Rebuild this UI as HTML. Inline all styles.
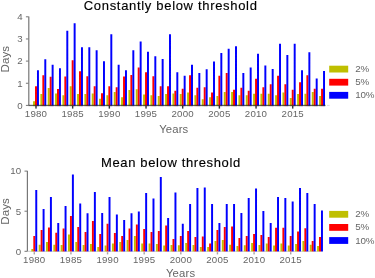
<!DOCTYPE html>
<html><head><meta charset="utf-8"><style>
html,body{margin:0;padding:0;background:#fff;width:375px;height:278px;overflow:hidden}
svg{display:block;will-change:transform}
text{font-family:"Liberation Sans",sans-serif}
.tl{font-size:9.7px;fill:#666666;letter-spacing:0.2px}
.lg{font-size:9.8px;fill:#666666;letter-spacing:-0.2px}
.ti{font-size:13px;fill:#000;stroke:#000;stroke-width:0.15px;letter-spacing:0.6px}
.xl{font-size:11.3px;fill:#666666;letter-spacing:0.15px}
.yl{font-size:11.5px;fill:#666666;letter-spacing:0.1px}
</style></head><body>
<svg width="375" height="278" viewBox="0 0 375 278">
<path d="M33.06 101.19h1.96V105.40h-1.96zM40.40 94.10h1.96V105.40h-1.96zM47.73 88.12h1.96V105.40h-1.96zM55.06 93.44h1.96V105.40h-1.96zM62.40 95.21h1.96V105.40h-1.96zM69.73 86.13h1.96V105.40h-1.96zM77.07 94.10h1.96V105.40h-1.96zM84.41 94.10h1.96V105.40h-1.96zM91.74 93.44h1.96V105.40h-1.96zM99.08 98.76h1.96V105.40h-1.96zM106.41 95.21h1.96V105.40h-1.96zM113.75 92.11h1.96V105.40h-1.96zM121.08 97.20h1.96V105.40h-1.96zM128.42 90.12h1.96V105.40h-1.96zM135.75 89.23h1.96V105.40h-1.96zM143.09 94.55h1.96V105.40h-1.96zM150.42 95.21h1.96V105.40h-1.96zM157.75 96.10h1.96V105.40h-1.96zM165.09 94.10h1.96V105.40h-1.96zM172.43 93.44h1.96V105.40h-1.96zM179.76 94.10h1.96V105.40h-1.96zM187.09 92.55h1.96V105.40h-1.96zM194.43 95.21h1.96V105.40h-1.96zM201.77 99.20h1.96V105.40h-1.96zM209.10 97.20h1.96V105.40h-1.96zM216.44 96.10h1.96V105.40h-1.96zM223.77 92.11h1.96V105.40h-1.96zM231.10 92.11h1.96V105.40h-1.96zM238.44 95.21h1.96V105.40h-1.96zM245.78 95.21h1.96V105.40h-1.96zM253.11 93.66h1.96V105.40h-1.96zM260.44 93.66h1.96V105.40h-1.96zM267.78 93.66h1.96V105.40h-1.96zM275.12 95.21h1.96V105.40h-1.96zM282.45 92.55h1.96V105.40h-1.96zM289.79 98.09h1.96V105.40h-1.96zM297.12 94.10h1.96V105.40h-1.96zM304.45 93.66h1.96V105.40h-1.96zM311.79 92.11h1.96V105.40h-1.96zM319.12 96.10h1.96V105.40h-1.96z" fill="#bfbf00"/>
<path d="M33.06 105.40h1.96v1.2h-1.96zM40.40 105.40h1.96v1.2h-1.96zM47.73 105.40h1.96v1.2h-1.96zM55.06 105.40h1.96v1.2h-1.96zM62.40 105.40h1.96v1.2h-1.96zM69.73 105.40h1.96v1.2h-1.96zM77.07 105.40h1.96v1.2h-1.96zM84.41 105.40h1.96v1.2h-1.96zM91.74 105.40h1.96v1.2h-1.96zM99.08 105.40h1.96v1.2h-1.96zM106.41 105.40h1.96v1.2h-1.96zM113.75 105.40h1.96v1.2h-1.96zM121.08 105.40h1.96v1.2h-1.96zM128.42 105.40h1.96v1.2h-1.96zM135.75 105.40h1.96v1.2h-1.96zM143.09 105.40h1.96v1.2h-1.96zM150.42 105.40h1.96v1.2h-1.96zM157.75 105.40h1.96v1.2h-1.96zM165.09 105.40h1.96v1.2h-1.96zM172.43 105.40h1.96v1.2h-1.96zM179.76 105.40h1.96v1.2h-1.96zM187.09 105.40h1.96v1.2h-1.96zM194.43 105.40h1.96v1.2h-1.96zM201.77 105.40h1.96v1.2h-1.96zM209.10 105.40h1.96v1.2h-1.96zM216.44 105.40h1.96v1.2h-1.96zM223.77 105.40h1.96v1.2h-1.96zM231.10 105.40h1.96v1.2h-1.96zM238.44 105.40h1.96v1.2h-1.96zM245.78 105.40h1.96v1.2h-1.96zM253.11 105.40h1.96v1.2h-1.96zM260.44 105.40h1.96v1.2h-1.96zM267.78 105.40h1.96v1.2h-1.96zM275.12 105.40h1.96v1.2h-1.96zM282.45 105.40h1.96v1.2h-1.96zM289.79 105.40h1.96v1.2h-1.96zM297.12 105.40h1.96v1.2h-1.96zM304.45 105.40h1.96v1.2h-1.96zM311.79 105.40h1.96v1.2h-1.96zM319.12 105.40h1.96v1.2h-1.96z" fill="#bfbf00" opacity="0.3"/>
<path d="M35.02 86.13h1.96V105.40h-1.96zM42.36 75.28h1.96V105.40h-1.96zM49.69 76.83h1.96V105.40h-1.96zM57.02 89.01h1.96V105.40h-1.96zM64.36 76.61h1.96V105.40h-1.96zM71.69 60.21h1.96V105.40h-1.96zM79.03 71.29h1.96V105.40h-1.96zM86.36 76.16h1.96V105.40h-1.96zM93.70 86.13h1.96V105.40h-1.96zM101.03 93.22h1.96V105.40h-1.96zM108.37 86.13h1.96V105.40h-1.96zM115.70 87.24h1.96V105.40h-1.96zM123.04 76.61h1.96V105.40h-1.96zM130.38 75.05h1.96V105.40h-1.96zM137.71 67.52h1.96V105.40h-1.96zM145.05 72.18h1.96V105.40h-1.96zM152.38 76.16h1.96V105.40h-1.96zM159.72 86.13h1.96V105.40h-1.96zM167.05 86.13h1.96V105.40h-1.96zM174.39 90.78h1.96V105.40h-1.96zM181.72 88.79h1.96V105.40h-1.96zM189.06 75.28h1.96V105.40h-1.96zM196.39 87.68h1.96V105.40h-1.96zM203.73 87.24h1.96V105.40h-1.96zM211.06 92.55h1.96V105.40h-1.96zM218.40 75.72h1.96V105.40h-1.96zM225.73 73.06h1.96V105.40h-1.96zM233.06 89.67h1.96V105.40h-1.96zM240.40 87.68h1.96V105.40h-1.96zM247.74 90.78h1.96V105.40h-1.96zM255.07 78.82h1.96V105.40h-1.96zM262.40 87.24h1.96V105.40h-1.96zM269.74 84.14h1.96V105.40h-1.96zM277.07 75.72h1.96V105.40h-1.96zM284.41 84.14h1.96V105.40h-1.96zM291.75 89.67h1.96V105.40h-1.96zM299.08 82.14h1.96V105.40h-1.96zM306.41 75.28h1.96V105.40h-1.96zM313.75 88.79h1.96V105.40h-1.96zM321.08 88.79h1.96V105.40h-1.96z" fill="#ff0000"/>
<path d="M35.02 105.40h1.96v1.2h-1.96zM42.36 105.40h1.96v1.2h-1.96zM49.69 105.40h1.96v1.2h-1.96zM57.02 105.40h1.96v1.2h-1.96zM64.36 105.40h1.96v1.2h-1.96zM71.69 105.40h1.96v1.2h-1.96zM79.03 105.40h1.96v1.2h-1.96zM86.36 105.40h1.96v1.2h-1.96zM93.70 105.40h1.96v1.2h-1.96zM101.03 105.40h1.96v1.2h-1.96zM108.37 105.40h1.96v1.2h-1.96zM115.70 105.40h1.96v1.2h-1.96zM123.04 105.40h1.96v1.2h-1.96zM130.38 105.40h1.96v1.2h-1.96zM137.71 105.40h1.96v1.2h-1.96zM145.05 105.40h1.96v1.2h-1.96zM152.38 105.40h1.96v1.2h-1.96zM159.72 105.40h1.96v1.2h-1.96zM167.05 105.40h1.96v1.2h-1.96zM174.39 105.40h1.96v1.2h-1.96zM181.72 105.40h1.96v1.2h-1.96zM189.06 105.40h1.96v1.2h-1.96zM196.39 105.40h1.96v1.2h-1.96zM203.73 105.40h1.96v1.2h-1.96zM211.06 105.40h1.96v1.2h-1.96zM218.40 105.40h1.96v1.2h-1.96zM225.73 105.40h1.96v1.2h-1.96zM233.06 105.40h1.96v1.2h-1.96zM240.40 105.40h1.96v1.2h-1.96zM247.74 105.40h1.96v1.2h-1.96zM255.07 105.40h1.96v1.2h-1.96zM262.40 105.40h1.96v1.2h-1.96zM269.74 105.40h1.96v1.2h-1.96zM277.07 105.40h1.96v1.2h-1.96zM284.41 105.40h1.96v1.2h-1.96zM291.75 105.40h1.96v1.2h-1.96zM299.08 105.40h1.96v1.2h-1.96zM306.41 105.40h1.96v1.2h-1.96zM313.75 105.40h1.96v1.2h-1.96zM321.08 105.40h1.96v1.2h-1.96z" fill="#ff0000" opacity="0.3"/>
<path d="M36.98 70.18h1.96V105.40h-1.96zM44.31 59.33h1.96V105.40h-1.96zM51.65 64.64h1.96V105.40h-1.96zM58.98 68.19h1.96V105.40h-1.96zM66.32 30.75h1.96V105.40h-1.96zM73.66 23.22h1.96V105.40h-1.96zM80.99 47.15h1.96V105.40h-1.96zM88.33 47.15h1.96V105.40h-1.96zM95.66 50.25h1.96V105.40h-1.96zM103.00 61.32h1.96V105.40h-1.96zM110.33 34.30h1.96V105.40h-1.96zM117.67 64.87h1.96V105.40h-1.96zM125.00 70.18h1.96V105.40h-1.96zM132.34 50.25h1.96V105.40h-1.96zM139.67 41.61h1.96V105.40h-1.96zM147.00 51.80h1.96V105.40h-1.96zM154.34 56.23h1.96V105.40h-1.96zM161.67 59.11h1.96V105.40h-1.96zM169.01 34.30h1.96V105.40h-1.96zM176.34 72.18h1.96V105.40h-1.96zM183.68 75.72h1.96V105.40h-1.96zM191.01 64.87h1.96V105.40h-1.96zM198.35 73.06h1.96V105.40h-1.96zM205.69 69.30h1.96V105.40h-1.96zM213.02 61.54h1.96V105.40h-1.96zM220.35 52.90h1.96V105.40h-1.96zM227.69 48.70h1.96V105.40h-1.96zM235.02 46.26h1.96V105.40h-1.96zM242.36 73.06h1.96V105.40h-1.96zM249.69 67.52h1.96V105.40h-1.96zM257.03 53.79h1.96V105.40h-1.96zM264.37 65.53h1.96V105.40h-1.96zM271.70 69.07h1.96V105.40h-1.96zM279.04 43.82h1.96V105.40h-1.96zM286.37 54.90h1.96V105.40h-1.96zM293.71 43.82h1.96V105.40h-1.96zM301.04 70.18h1.96V105.40h-1.96zM308.38 52.24h1.96V105.40h-1.96zM315.71 78.60h1.96V105.40h-1.96zM323.05 71.07h1.96V105.40h-1.96z" fill="#0000ff"/>
<path d="M36.98 105.40h1.96v1.2h-1.96zM44.31 105.40h1.96v1.2h-1.96zM51.65 105.40h1.96v1.2h-1.96zM58.98 105.40h1.96v1.2h-1.96zM66.32 105.40h1.96v1.2h-1.96zM73.66 105.40h1.96v1.2h-1.96zM80.99 105.40h1.96v1.2h-1.96zM88.33 105.40h1.96v1.2h-1.96zM95.66 105.40h1.96v1.2h-1.96zM103.00 105.40h1.96v1.2h-1.96zM110.33 105.40h1.96v1.2h-1.96zM117.67 105.40h1.96v1.2h-1.96zM125.00 105.40h1.96v1.2h-1.96zM132.34 105.40h1.96v1.2h-1.96zM139.67 105.40h1.96v1.2h-1.96zM147.00 105.40h1.96v1.2h-1.96zM154.34 105.40h1.96v1.2h-1.96zM161.67 105.40h1.96v1.2h-1.96zM169.01 105.40h1.96v1.2h-1.96zM176.34 105.40h1.96v1.2h-1.96zM183.68 105.40h1.96v1.2h-1.96zM191.01 105.40h1.96v1.2h-1.96zM198.35 105.40h1.96v1.2h-1.96zM205.69 105.40h1.96v1.2h-1.96zM213.02 105.40h1.96v1.2h-1.96zM220.35 105.40h1.96v1.2h-1.96zM227.69 105.40h1.96v1.2h-1.96zM235.02 105.40h1.96v1.2h-1.96zM242.36 105.40h1.96v1.2h-1.96zM249.69 105.40h1.96v1.2h-1.96zM257.03 105.40h1.96v1.2h-1.96zM264.37 105.40h1.96v1.2h-1.96zM271.70 105.40h1.96v1.2h-1.96zM279.04 105.40h1.96v1.2h-1.96zM286.37 105.40h1.96v1.2h-1.96zM293.71 105.40h1.96v1.2h-1.96zM301.04 105.40h1.96v1.2h-1.96zM308.38 105.40h1.96v1.2h-1.96zM315.71 105.40h1.96v1.2h-1.96zM323.05 105.40h1.96v1.2h-1.96z" fill="#0000ff" opacity="0.3"/>
<rect x="28.20" y="16.50" width="1.2" height="88.90" fill="#777777"/>
<rect x="28.30" y="104.80" width="297.20" height="1.3" fill="#000" fill-opacity="0.62"/>
<rect x="327.00" y="104.90" width="2.6" height="1" fill="#ddd"/>
<rect x="25.90" y="104.90" width="2.7" height="1" fill="#777777"/>
<text x="22.80" y="108.70" text-anchor="end" class="tl">0</text>
<rect x="25.90" y="82.75" width="2.7" height="1" fill="#777777"/>
<text x="22.80" y="86.55" text-anchor="end" class="tl">1</text>
<rect x="25.90" y="60.60" width="2.7" height="1" fill="#777777"/>
<text x="22.80" y="64.40" text-anchor="end" class="tl">2</text>
<rect x="25.90" y="38.45" width="2.7" height="1" fill="#777777"/>
<text x="22.80" y="42.25" text-anchor="end" class="tl">3</text>
<rect x="25.90" y="16.30" width="2.7" height="1" fill="#777777"/>
<text x="22.80" y="20.10" text-anchor="end" class="tl">4</text>
<rect x="35.30" y="106.00" width="1.4" height="2.6" fill="#333"/>
<text x="36.00" y="117.30" text-anchor="middle" class="tl">1980</text>
<rect x="71.97" y="106.00" width="1.4" height="2.6" fill="#333"/>
<text x="72.67" y="117.30" text-anchor="middle" class="tl">1985</text>
<rect x="108.65" y="106.00" width="1.4" height="2.6" fill="#333"/>
<text x="109.35" y="117.30" text-anchor="middle" class="tl">1990</text>
<rect x="145.33" y="106.00" width="1.4" height="2.6" fill="#333"/>
<text x="146.03" y="117.30" text-anchor="middle" class="tl">1995</text>
<rect x="182.00" y="106.00" width="1.4" height="2.6" fill="#333"/>
<text x="182.70" y="117.30" text-anchor="middle" class="tl">2000</text>
<rect x="218.68" y="106.00" width="1.4" height="2.6" fill="#333"/>
<text x="219.38" y="117.30" text-anchor="middle" class="tl">2005</text>
<rect x="255.35" y="106.00" width="1.4" height="2.6" fill="#333"/>
<text x="256.05" y="117.30" text-anchor="middle" class="tl">2010</text>
<rect x="292.03" y="106.00" width="1.4" height="2.6" fill="#333"/>
<text x="292.73" y="117.30" text-anchor="middle" class="tl">2015</text>
<rect x="329.2" y="65.70" width="19" height="6.8" fill="#bfbf00"/>
<text x="355.2" y="72.10" class="lg">2%</text>
<rect x="329.2" y="78.80" width="19" height="6.8" fill="#ff0000"/>
<text x="355.2" y="85.20" class="lg">5%</text>
<rect x="329.2" y="91.90" width="19" height="6.8" fill="#0000ff"/>
<text x="355.2" y="98.30" class="lg">10%</text>
<rect x="26.90" y="250.80" width="295.80" height="1" fill="#ccc"/>
<path d="M31.36 248.97h1.96V251.30h-1.96zM38.69 244.64h1.96V251.30h-1.96zM46.01 242.00h1.96V251.30h-1.96zM53.34 244.64h1.96V251.30h-1.96zM60.66 244.96h1.96V251.30h-1.96zM67.99 234.62h1.96V251.30h-1.96zM75.32 242.00h1.96V251.30h-1.96zM82.64 244.96h1.96V251.30h-1.96zM89.97 244.00h1.96V251.30h-1.96zM97.29 246.97h1.96V251.30h-1.96zM104.62 245.61h1.96V251.30h-1.96zM111.95 243.60h1.96V251.30h-1.96zM119.27 242.00h1.96V251.30h-1.96zM126.60 239.99h1.96V251.30h-1.96zM133.92 235.98h1.96V251.30h-1.96zM141.25 243.60h1.96V251.30h-1.96zM148.58 243.44h1.96V251.30h-1.96zM155.90 244.00h1.96V251.30h-1.96zM163.23 245.61h1.96V251.30h-1.96zM170.55 244.96h1.96V251.30h-1.96zM177.88 245.37h1.96V251.30h-1.96zM185.21 243.04h1.96V251.30h-1.96zM192.53 244.96h1.96V251.30h-1.96zM199.86 246.97h1.96V251.30h-1.96zM207.18 246.97h1.96V251.30h-1.96zM214.51 241.03h1.96V251.30h-1.96zM221.84 239.99h1.96V251.30h-1.96zM229.16 244.64h1.96V251.30h-1.96zM236.49 246.01h1.96V251.30h-1.96zM243.81 245.37h1.96V251.30h-1.96zM251.14 243.04h1.96V251.30h-1.96zM258.47 244.96h1.96V251.30h-1.96zM265.79 243.60h1.96V251.30h-1.96zM273.12 245.61h1.96V251.30h-1.96zM280.44 243.60h1.96V251.30h-1.96zM287.77 245.61h1.96V251.30h-1.96zM295.10 244.00h1.96V251.30h-1.96zM302.42 241.03h1.96V251.30h-1.96zM309.75 244.64h1.96V251.30h-1.96zM317.07 246.01h1.96V251.30h-1.96z" fill="#bfbf00"/>
<path d="M31.36 251.30h1.96v0.6h-1.96zM38.69 251.30h1.96v0.6h-1.96zM46.01 251.30h1.96v0.6h-1.96zM53.34 251.30h1.96v0.6h-1.96zM60.66 251.30h1.96v0.6h-1.96zM67.99 251.30h1.96v0.6h-1.96zM75.32 251.30h1.96v0.6h-1.96zM82.64 251.30h1.96v0.6h-1.96zM89.97 251.30h1.96v0.6h-1.96zM97.29 251.30h1.96v0.6h-1.96zM104.62 251.30h1.96v0.6h-1.96zM111.95 251.30h1.96v0.6h-1.96zM119.27 251.30h1.96v0.6h-1.96zM126.60 251.30h1.96v0.6h-1.96zM133.92 251.30h1.96v0.6h-1.96zM141.25 251.30h1.96v0.6h-1.96zM148.58 251.30h1.96v0.6h-1.96zM155.90 251.30h1.96v0.6h-1.96zM163.23 251.30h1.96v0.6h-1.96zM170.55 251.30h1.96v0.6h-1.96zM177.88 251.30h1.96v0.6h-1.96zM185.21 251.30h1.96v0.6h-1.96zM192.53 251.30h1.96v0.6h-1.96zM199.86 251.30h1.96v0.6h-1.96zM207.18 251.30h1.96v0.6h-1.96zM214.51 251.30h1.96v0.6h-1.96zM221.84 251.30h1.96v0.6h-1.96zM229.16 251.30h1.96v0.6h-1.96zM236.49 251.30h1.96v0.6h-1.96zM243.81 251.30h1.96v0.6h-1.96zM251.14 251.30h1.96v0.6h-1.96zM258.47 251.30h1.96v0.6h-1.96zM265.79 251.30h1.96v0.6h-1.96zM273.12 251.30h1.96v0.6h-1.96zM280.44 251.30h1.96v0.6h-1.96zM287.77 251.30h1.96v0.6h-1.96zM295.10 251.30h1.96v0.6h-1.96zM302.42 251.30h1.96v0.6h-1.96zM309.75 251.30h1.96v0.6h-1.96zM317.07 251.30h1.96v0.6h-1.96z" fill="#bfbf00" opacity="0.3"/>
<path d="M33.32 235.98h1.96V251.30h-1.96zM40.65 229.97h1.96V251.30h-1.96zM47.97 227.56h1.96V251.30h-1.96zM55.30 232.77h1.96V251.30h-1.96zM62.62 228.60h1.96V251.30h-1.96zM69.95 216.01h1.96V251.30h-1.96zM77.28 227.00h1.96V251.30h-1.96zM84.60 231.97h1.96V251.30h-1.96zM91.93 220.98h1.96V251.30h-1.96zM99.25 233.98h1.96V251.30h-1.96zM106.58 223.63h1.96V251.30h-1.96zM113.91 233.01h1.96V251.30h-1.96zM121.23 235.98h1.96V251.30h-1.96zM128.56 228.44h1.96V251.30h-1.96zM135.88 224.59h1.96V251.30h-1.96zM143.21 229.00h1.96V251.30h-1.96zM150.54 231.97h1.96V251.30h-1.96zM157.86 231.01h1.96V251.30h-1.96zM165.19 225.40h1.96V251.30h-1.96zM172.51 239.03h1.96V251.30h-1.96zM179.84 235.98h1.96V251.30h-1.96zM187.17 231.01h1.96V251.30h-1.96zM194.49 237.02h1.96V251.30h-1.96zM201.82 236.62h1.96V251.30h-1.96zM209.14 243.44h1.96V251.30h-1.96zM216.47 229.97h1.96V251.30h-1.96zM223.80 227.00h1.96V251.30h-1.96zM231.12 226.60h1.96V251.30h-1.96zM238.45 237.99h1.96V251.30h-1.96zM245.77 235.98h1.96V251.30h-1.96zM253.10 233.98h1.96V251.30h-1.96zM260.43 235.02h1.96V251.30h-1.96zM267.75 237.02h1.96V251.30h-1.96zM275.08 227.64h1.96V251.30h-1.96zM282.40 227.64h1.96V251.30h-1.96zM289.73 235.98h1.96V251.30h-1.96zM297.06 231.57h1.96V251.30h-1.96zM304.38 228.36h1.96V251.30h-1.96zM311.71 241.03h1.96V251.30h-1.96zM319.03 237.02h1.96V251.30h-1.96z" fill="#ff0000"/>
<path d="M33.32 251.30h1.96v0.6h-1.96zM40.65 251.30h1.96v0.6h-1.96zM47.97 251.30h1.96v0.6h-1.96zM55.30 251.30h1.96v0.6h-1.96zM62.62 251.30h1.96v0.6h-1.96zM69.95 251.30h1.96v0.6h-1.96zM77.28 251.30h1.96v0.6h-1.96zM84.60 251.30h1.96v0.6h-1.96zM91.93 251.30h1.96v0.6h-1.96zM99.25 251.30h1.96v0.6h-1.96zM106.58 251.30h1.96v0.6h-1.96zM113.91 251.30h1.96v0.6h-1.96zM121.23 251.30h1.96v0.6h-1.96zM128.56 251.30h1.96v0.6h-1.96zM135.88 251.30h1.96v0.6h-1.96zM143.21 251.30h1.96v0.6h-1.96zM150.54 251.30h1.96v0.6h-1.96zM157.86 251.30h1.96v0.6h-1.96zM165.19 251.30h1.96v0.6h-1.96zM172.51 251.30h1.96v0.6h-1.96zM179.84 251.30h1.96v0.6h-1.96zM187.17 251.30h1.96v0.6h-1.96zM194.49 251.30h1.96v0.6h-1.96zM201.82 251.30h1.96v0.6h-1.96zM209.14 251.30h1.96v0.6h-1.96zM216.47 251.30h1.96v0.6h-1.96zM223.80 251.30h1.96v0.6h-1.96zM231.12 251.30h1.96v0.6h-1.96zM238.45 251.30h1.96v0.6h-1.96zM245.77 251.30h1.96v0.6h-1.96zM253.10 251.30h1.96v0.6h-1.96zM260.43 251.30h1.96v0.6h-1.96zM267.75 251.30h1.96v0.6h-1.96zM275.08 251.30h1.96v0.6h-1.96zM282.40 251.30h1.96v0.6h-1.96zM289.73 251.30h1.96v0.6h-1.96zM297.06 251.30h1.96v0.6h-1.96zM304.38 251.30h1.96v0.6h-1.96zM311.71 251.30h1.96v0.6h-1.96zM319.03 251.30h1.96v0.6h-1.96z" fill="#ff0000" opacity="0.3"/>
<path d="M35.28 190.03h1.96V251.30h-1.96zM42.61 209.03h1.96V251.30h-1.96zM49.93 197.00h1.96V251.30h-1.96zM57.26 222.99h1.96V251.30h-1.96zM64.58 205.99h1.96V251.30h-1.96zM71.91 174.39h1.96V251.30h-1.96zM79.24 203.42h1.96V251.30h-1.96zM86.56 213.21h1.96V251.30h-1.96zM93.89 192.03h1.96V251.30h-1.96zM101.21 213.04h1.96V251.30h-1.96zM108.54 197.00h1.96V251.30h-1.96zM115.87 214.57h1.96V251.30h-1.96zM123.19 220.02h1.96V251.30h-1.96zM130.52 213.21h1.96V251.30h-1.96zM137.84 211.60h1.96V251.30h-1.96zM145.17 192.99h1.96V251.30h-1.96zM152.50 198.61h1.96V251.30h-1.96zM159.82 177.03h1.96V251.30h-1.96zM167.15 218.02h1.96V251.30h-1.96zM174.47 192.43h1.96V251.30h-1.96zM181.80 223.63h1.96V251.30h-1.96zM189.13 203.98h1.96V251.30h-1.96zM196.45 188.02h1.96V251.30h-1.96zM203.78 187.38h1.96V251.30h-1.96zM211.10 203.98h1.96V251.30h-1.96zM218.43 222.99h1.96V251.30h-1.96zM225.76 203.98h1.96V251.30h-1.96zM233.08 203.98h1.96V251.30h-1.96zM240.41 212.96h1.96V251.30h-1.96zM247.73 197.97h1.96V251.30h-1.96zM255.06 188.42h1.96V251.30h-1.96zM262.39 210.96h1.96V251.30h-1.96zM269.71 222.99h1.96V251.30h-1.96zM277.04 197.00h1.96V251.30h-1.96zM284.36 197.97h1.96V251.30h-1.96zM291.69 201.42h1.96V251.30h-1.96zM299.02 188.02h1.96V251.30h-1.96zM306.34 192.99h1.96V251.30h-1.96zM313.67 203.98h1.96V251.30h-1.96zM320.99 210.40h1.96V251.30h-1.96z" fill="#0000ff"/>
<path d="M35.28 251.30h1.96v0.6h-1.96zM42.61 251.30h1.96v0.6h-1.96zM49.93 251.30h1.96v0.6h-1.96zM57.26 251.30h1.96v0.6h-1.96zM64.58 251.30h1.96v0.6h-1.96zM71.91 251.30h1.96v0.6h-1.96zM79.24 251.30h1.96v0.6h-1.96zM86.56 251.30h1.96v0.6h-1.96zM93.89 251.30h1.96v0.6h-1.96zM101.21 251.30h1.96v0.6h-1.96zM108.54 251.30h1.96v0.6h-1.96zM115.87 251.30h1.96v0.6h-1.96zM123.19 251.30h1.96v0.6h-1.96zM130.52 251.30h1.96v0.6h-1.96zM137.84 251.30h1.96v0.6h-1.96zM145.17 251.30h1.96v0.6h-1.96zM152.50 251.30h1.96v0.6h-1.96zM159.82 251.30h1.96v0.6h-1.96zM167.15 251.30h1.96v0.6h-1.96zM174.47 251.30h1.96v0.6h-1.96zM181.80 251.30h1.96v0.6h-1.96zM189.13 251.30h1.96v0.6h-1.96zM196.45 251.30h1.96v0.6h-1.96zM203.78 251.30h1.96v0.6h-1.96zM211.10 251.30h1.96v0.6h-1.96zM218.43 251.30h1.96v0.6h-1.96zM225.76 251.30h1.96v0.6h-1.96zM233.08 251.30h1.96v0.6h-1.96zM240.41 251.30h1.96v0.6h-1.96zM247.73 251.30h1.96v0.6h-1.96zM255.06 251.30h1.96v0.6h-1.96zM262.39 251.30h1.96v0.6h-1.96zM269.71 251.30h1.96v0.6h-1.96zM277.04 251.30h1.96v0.6h-1.96zM284.36 251.30h1.96v0.6h-1.96zM291.69 251.30h1.96v0.6h-1.96zM299.02 251.30h1.96v0.6h-1.96zM306.34 251.30h1.96v0.6h-1.96zM313.67 251.30h1.96v0.6h-1.96zM320.99 251.30h1.96v0.6h-1.96z" fill="#0000ff" opacity="0.3"/>
<rect x="26.80" y="170.80" width="1.2" height="80.50" fill="#777777"/>
<rect x="24.50" y="250.80" width="2.7" height="1" fill="#777777"/>
<text x="21.40" y="254.60" text-anchor="end" class="tl">0</text>
<rect x="24.50" y="210.70" width="2.7" height="1" fill="#777777"/>
<text x="21.40" y="214.50" text-anchor="end" class="tl">5</text>
<rect x="24.50" y="170.60" width="2.7" height="1" fill="#777777"/>
<text x="21.40" y="174.40" text-anchor="end" class="tl">10</text>
<rect x="33.60" y="252.20" width="1.4" height="2.2" fill="#a4a4a4"/>
<text x="34.30" y="263.20" text-anchor="middle" class="tl">1980</text>
<rect x="70.23" y="252.20" width="1.4" height="2.2" fill="#a4a4a4"/>
<text x="70.93" y="263.20" text-anchor="middle" class="tl">1985</text>
<rect x="106.86" y="252.20" width="1.4" height="2.2" fill="#a4a4a4"/>
<text x="107.56" y="263.20" text-anchor="middle" class="tl">1990</text>
<rect x="143.49" y="252.20" width="1.4" height="2.2" fill="#a4a4a4"/>
<text x="144.19" y="263.20" text-anchor="middle" class="tl">1995</text>
<rect x="180.12" y="252.20" width="1.4" height="2.2" fill="#a4a4a4"/>
<text x="180.82" y="263.20" text-anchor="middle" class="tl">2000</text>
<rect x="216.75" y="252.20" width="1.4" height="2.2" fill="#a4a4a4"/>
<text x="217.45" y="263.20" text-anchor="middle" class="tl">2005</text>
<rect x="253.38" y="252.20" width="1.4" height="2.2" fill="#a4a4a4"/>
<text x="254.08" y="263.20" text-anchor="middle" class="tl">2010</text>
<rect x="290.01" y="252.20" width="1.4" height="2.2" fill="#a4a4a4"/>
<text x="290.71" y="263.20" text-anchor="middle" class="tl">2015</text>
<rect x="329.2" y="210.90" width="19" height="6.8" fill="#bfbf00"/>
<text x="355.2" y="217.30" class="lg">2%</text>
<rect x="329.2" y="224.00" width="19" height="6.8" fill="#ff0000"/>
<text x="355.2" y="230.40" class="lg">5%</text>
<rect x="329.2" y="237.10" width="19" height="6.8" fill="#0000ff"/>
<text x="355.2" y="243.50" class="lg">10%</text>
<text x="170.7" y="10.2" text-anchor="middle" class="ti" style="letter-spacing:0.68px">Constantly below threshold</text>
<text x="170.9" y="167.2" text-anchor="middle" class="ti" style="letter-spacing:0.63px">Mean below threshold</text>
<text x="173.8" y="132.8" text-anchor="middle" class="xl">Years</text>
<text x="180.6" y="276.8" text-anchor="middle" class="xl">Years</text>
<text transform="translate(8.8,59.2) rotate(-90)" text-anchor="middle" class="yl">Days</text>
<text transform="translate(8.8,211.4) rotate(-90)" text-anchor="middle" class="yl">Days</text>
</svg>
</body></html>
